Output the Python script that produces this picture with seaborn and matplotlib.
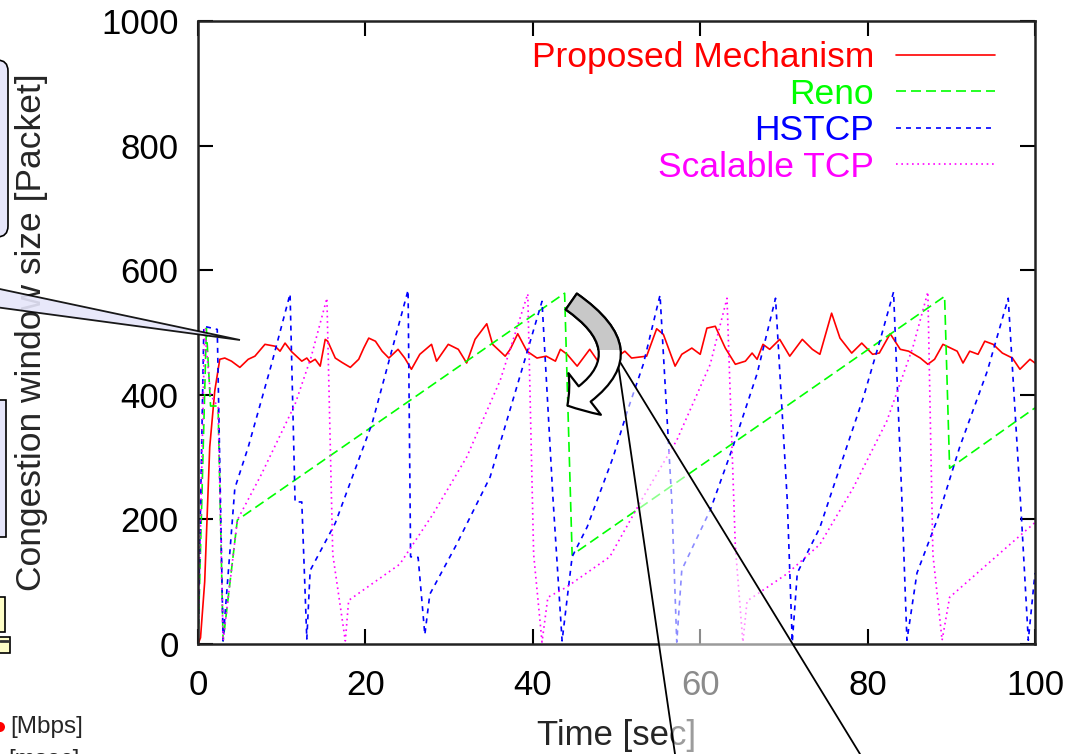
import numpy as np
import pandas as pd
import matplotlib
matplotlib.use("Agg")
import matplotlib.pyplot as plt
import matplotlib.transforms as mtransforms
from matplotlib.patches import Polygon, FancyBboxPatch, FancyArrowPatch, Rectangle, Circle
from matplotlib.lines import Line2D
import seaborn as sns

# ---- data ----
red_t = [0, 0.3, 0.8, 1.4, 2.0, 2.6, 3.2, 4.0, 5.0, 6.0, 6.8, 8.0, 9.2, 9.8, 10.4, 11.2,
         12.4, 13.0, 13.4, 14.0, 14.6, 15.2, 15.5, 16.4, 17.2, 18.2, 19.2, 19.8, 20.4, 21.2,
         22.0, 22.8, 23.9, 24.7, 25.5, 26.5, 27.9, 28.5, 29.9, 31.1, 32.1, 33.1, 34.5, 35.2,
         36.7, 37.3, 38.2, 39.3, 40.5, 41.6, 42.7, 43.3, 44.1, 45.3, 46.8, 48.3, 49.4, 50.2,
         51.0, 51.8, 53.6, 54.8, 55.6, 57.0, 57.8, 59.0, 60.0, 60.8, 61.8, 63.0, 64.2, 65.4,
         66.2, 66.8, 67.5, 68.3, 69.5, 70.7, 72.2, 73.4, 74.3, 75.7, 76.7, 78.1, 79.3, 80.6,
         81.4, 82.7, 83.9, 84.9, 86.3, 87.2, 88.0, 89.0, 90.7, 91.4, 92.2, 93.2, 94.0, 95.0,
         96.1, 97.3, 98.2, 99.4, 100]
red_y = [0, 10, 100, 316, 406, 457, 459, 454, 444, 457, 462, 481, 478, 470, 483, 469,
         454, 459, 452, 457, 446, 489, 486, 459, 452, 444, 457, 475, 491, 486,
         470, 459, 473, 459, 441, 465, 481, 454, 481, 473, 451, 489, 514, 481,
         462, 473, 498, 470, 459, 462, 454, 473, 465, 446, 473, 444, 458, 462,
         470, 459, 462, 506, 497, 446, 465, 475, 465, 507, 510, 475, 449, 454,
         467, 457, 481, 473, 489, 462, 489, 473, 465, 531, 491, 467, 483, 465,
         467, 498, 473, 470, 459, 449, 457, 481, 470, 451, 470, 465, 486, 481,
         467, 459, 441, 457, 451]

reno_t = [0, 1.0, 1.5, 2.4, 3.0, 4.7, 43.8, 44.7, 89.2, 89.8, 100]
reno_y = [0, 507, 382, 382, 5, 199, 563, 143, 558, 282, 379]

hstcp_t = [0, 0.7, 2.3, 3.0, 3.3, 4.4, 6.0, 8.8, 11.0, 11.6, 12.4, 13.0, 13.4, 16.4, 20.8,
           25.1, 25.4, 26.3, 27.1, 27.7, 30.9, 34.9, 38.8, 41.1, 42.4, 43.5, 44.7, 46.5,
           49.6, 51.2, 53.2, 55.2, 56.6, 57.2, 57.8, 61.2, 63.9, 66.8, 69.0, 70.4, 71.0,
           71.6, 74.3, 76.7, 79.5, 81.5, 83.1, 84.1, 84.7, 85.9, 88.3, 91.0, 94.3, 96.8,
           98.4, 99.2, 100]
hstcp_y = [0, 510, 505, 5, 60, 250, 316, 450, 562, 228, 228, 8, 118, 194, 354,
           568, 140, 139, 15, 80, 160, 268, 445, 550, 236, 5, 140, 188,
           300, 370, 449, 560, 231, 3, 119, 215, 316, 434, 555, 231, 3,
           114, 187, 284, 396, 488, 565, 231, 6, 114, 199, 316, 438, 555,
           199, 6, 114]

stcp_t = [0, 0.8, 1.5, 2.4, 3.0, 4.7, 7.6, 11.6, 13.5, 15.4, 16.1, 17.6, 18.0, 24.1, 28.1,
          32.1, 36.1, 39.4, 40.1, 41.1, 41.8, 44.0, 49.2, 53.2, 57.2, 61.2, 63.2, 64.2,
          65.1, 65.6, 70.4, 74.3, 78.3, 82.3, 85.4, 87.2, 87.8, 88.9, 89.8, 94.3, 100]
stcp_y = [0, 505, 400, 380, 5, 199, 273, 385, 460, 555, 144, 5, 70, 128, 209,
          300, 423, 562, 144, 3, 75, 91, 140, 236, 327, 449, 555, 156,
          3, 69, 113, 160, 251, 358, 476, 565, 144, 6, 75, 128, 195]

x_ticks = [0, 20, 40, 60, 80, 100]
y_ticks = [0, 200, 400, 600, 800, 1000]

sns.set_style("ticks")
plt.rcParams['font.family'] = ['Liberation Sans', 'DejaVu Sans']

W, H = 1079, 754
fig = plt.figure(figsize=(W / 100, H / 100), dpi=100)
ax = fig.add_axes([198 / W, 1 - 644 / H, (1035 - 198) / W, (644 - 21) / H])

sns.lineplot(x=red_t, y=red_y, ax=ax, color='#ff0000', lw=1.2,
             label='Proposed Mechanism', estimator=None, sort=False)
sns.lineplot(x=reno_t, y=reno_y, ax=ax, color='#00ff00', lw=1.2,
             linestyle=(0, (6, 3)), label='Reno', estimator=None, sort=False)
sns.lineplot(x=hstcp_t, y=hstcp_y, ax=ax, color='#0000ff', lw=1.2,
             linestyle=(0, (3, 3)), label='HSTCP', estimator=None, sort=False)
sns.lineplot(x=stcp_t, y=stcp_y, ax=ax, color='#ff00ff', lw=1.2,
             linestyle=(0, (1, 2.2)), label='Scalable TCP', estimator=None, sort=False)

ax.set_xlim(0, 100)
ax.set_ylim(0, 1000)
ax.set_xticks(x_ticks)
ax.set_yticks(y_ticks)
ax.tick_params(direction='in', length=11, width=1.5, top=True, right=True,
               labelsize=25, colors='black')
ax.tick_params(axis='x', pad=18)
ax.tick_params(axis='y', pad=14)
for s in ax.spines.values():
    s.set_linewidth(1.8)
    s.set_color('#222222')

ax.set_xlabel('Time [sec]', fontsize=25)
ax.xaxis.set_label_coords(0.5, (644 - 735) / 623)
ax.xaxis.label.set_va('center')
ax.set_ylabel('Congestion window size [Packet]', fontsize=25.5)
ax.yaxis.set_label_coords((32 - 198) / 837, 0.5)
ax.yaxis.label.set_va('center')

ax.legend(loc='upper right', bbox_to_anchor=((995 - 198) / 837, (644 - 41) / 623),
          markerfirst=False, frameon=False, fontsize=25.5, labelcolor='linecolor',
          handlelength=2.8, handletextpad=0.62, labelspacing=0.1,
          borderaxespad=0, borderpad=0)

# ---- overlay annotations, in picture pixels ----
tr = mtransforms.Affine2D().scale(1 / W, -1 / H).translate(0, 1) + fig.transFigure

lav = '#e6e6fa'
fig.add_artist(FancyBboxPatch((-30, 60), 38, 177, boxstyle='round,pad=0,rounding_size=11',
                              fc=lav, ec='black', lw=1.2, transform=tr, zorder=6))
fig.add_artist(Polygon([(-5, 288), (240, 340), (-5, 307)], closed=True, fc=lav, ec='black',
                       lw=1.3, alpha=0.9, transform=tr, zorder=6))
fig.add_artist(Rectangle((-10, 400), 16, 137, fc=lav, ec='black', lw=1.2, transform=tr, zorder=6))
fig.add_artist(Rectangle((-10, 597), 15, 35, fc='#ffffc8', ec='black', lw=1.2, transform=tr, zorder=6))
fig.add_artist(Rectangle((-10, 637), 20, 16, fc='#ffffc8', ec='black', lw=1.2, transform=tr, zorder=6))
fig.add_artist(Line2D([0, 8], [641, 641], color='#333333', lw=2, transform=tr, zorder=7))
fig.add_artist(Circle((0, 727), 5, fc='red', ec='none', transform=tr, zorder=6))
fig.text(10 / W, 1 - 727 / H, '[Mbps]', fontsize=17.5, va='center', ha='left', zorder=6)
fig.text(8 / W, 1 - 760 / H, '[msec]', fontsize=17.5, va='center', ha='left', zorder=6)

# translucent callout wedge from the curve down to the bottom
fig.add_artist(Polygon([(617, 357), (675, 754), (860, 754)], closed=True, fc='white',
                       ec='none', alpha=0.55, transform=tr, zorder=6))
fig.add_artist(Line2D([617, 675], [357, 754], color='black', lw=1.3, transform=tr, zorder=7))
fig.add_artist(Line2D([617, 860], [357, 754], color='black', lw=1.3, transform=tr, zorder=7))

# curved block arrow
arr_style = "simple,head_length=15,head_width=38,tail_width=14"
fig.add_artist(FancyArrowPatch((569, 300), (565, 407), arrowstyle=arr_style,
                               connectionstyle="arc3,rad=-0.8", mutation_scale=1,
                               fc='white', ec='black', lw=1.6, transform=tr, zorder=8))
gray_arrow = FancyArrowPatch((569, 300), (565, 407), arrowstyle=arr_style,
                             connectionstyle="arc3,rad=-0.8", mutation_scale=1,
                             fc='#c8c8c8', ec='black', lw=1.6, transform=tr, zorder=9)
clip_rect = Rectangle((540, 280), 100, 70, transform=tr)
fig.add_artist(gray_arrow)
gray_arrow.set_clip_path(clip_rect)

fig.savefig('out.png', dpi=100, facecolor='white')
